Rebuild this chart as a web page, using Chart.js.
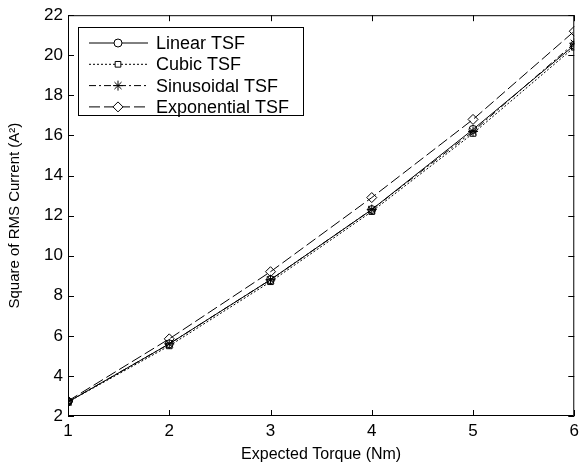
<!DOCTYPE html>
<html>
<head>
<meta charset="utf-8">
<script src="https://cdn.jsdelivr.net/npm/chart.js@4"></script>
<style>
  html, body { margin: 0; padding: 0; background: #fff; }
  #wrap { width: 584px; height: 470px; }
</style>
</head>
<body>
<div id="wrap"><canvas id="chart" width="584" height="470"></canvas></div>
<script>
// -----------------------------
// DATA
// -----------------------------
const torque = [1, 2, 3, 4, 5, 6];
const linearTSF = [2.7, 5.6, 8.8, 12.3, 16.3, 20.5];
const cubicTSF = [2.7, 5.5, 8.7, 12.2, 16.1, 20.4];
const sinusoidalTSF = [2.7, 5.6, 8.8, 12.3, 16.2, 20.6];
const exponentialTSF = [2.75, 5.85, 9.2, 12.9, 16.8, 21.2];
const yTicks = [2, 4, 6, 8, 10, 12, 14, 16, 18, 20, 22];

const FONT = "'Liberation Sans', Arial, sans-serif";

function pts(values) {
    return torque.map((t, i) => ({ x: t, y: values[i] }));
}

function series(label, values, dash, style, radius) {
    return {
        label,
        data: pts(values),
        borderColor: "#000",
        borderWidth: 1,
        borderDash: dash,
        pointStyle: style,
        pointRadius: radius,
        pointBorderColor: "#000",
        pointBackgroundColor: "rgba(0,0,0,0)",
        pointBorderWidth: 1,
        fill: false,
        tension: 0
    };
}

// -----------------------------
// INWARD TICKS + BOX + LEGEND
// -----------------------------
const matlabFrame = {
    id: "matlabFrame",
    afterDraw(chart) {
        const ctx = chart.ctx;
        const a = chart.chartArea;
        const xs = chart.scales.x;
        const ys = chart.scales.y;
        ctx.save();
        ctx.strokeStyle = "#000";
        ctx.lineWidth = 1;
        ctx.beginPath();
        ctx.rect(a.left + 0.5, a.top + 0.5, a.right - a.left - 1, a.bottom - a.top - 1);
        ctx.stroke();
        ctx.beginPath();
        torque.forEach(t => {
            const px = Math.round(xs.getPixelForValue(t)) + 0.5;
            ctx.moveTo(px, a.bottom); ctx.lineTo(px, a.bottom - 6);
            ctx.moveTo(px, a.top); ctx.lineTo(px, a.top + 6);
        });
        yTicks.forEach(v => {
            const py = Math.round(ys.getPixelForValue(v)) + 0.5;
            ctx.moveTo(a.left, py); ctx.lineTo(a.left + 6, py);
            ctx.moveTo(a.right, py); ctx.lineTo(a.right - 6, py);
        });
        ctx.stroke();

        // legend box
        const lx = 78, ly = 27, lw = 225, lh = 88;
        ctx.fillStyle = "#fff";
        ctx.fillRect(lx, ly, lw, lh);
        ctx.strokeRect(lx + 0.5, ly + 0.5, lw, lh);
        ctx.font = "18px " + FONT;
        ctx.textBaseline = "middle";
        chart.data.datasets.forEach((ds, i) => {
            const y = ly + 16 + i * 21.3;
            ctx.setLineDash(ds.borderDash);
            ctx.beginPath();
            ctx.moveTo(89, y); ctx.lineTo(148, y);
            ctx.stroke();
            ctx.setLineDash([]);
            ctx.fillStyle = "#fff";
            Chart.helpers.drawPoint(ctx, {
                pointStyle: ds.pointStyle,
                radius: ds.pointRadius,
                rotation: 0,
                borderWidth: 1
            }, 118, y);
            ctx.fillStyle = "#000";
            ctx.fillText(ds.label, 156, y + 1);
        });
        ctx.restore();
    }
};

// -----------------------------
// CHART
// -----------------------------
new Chart(document.getElementById("chart").getContext("2d"), {
    type: "line",
    data: {
        datasets: [
            series("Linear TSF", linearTSF, [], "circle", 4),
            series("Cubic TSF", cubicTSF, [2, 2], "rect", 4),
            series("Sinusoidal TSF", sinusoidalTSF, [7, 3, 2, 3], "star", 5),
            series("Exponential TSF", exponentialTSF, [11, 4], "rectRot", 5)
        ]
    },
    options: {
        responsive: false,
        animation: false,
        layout: { padding: { top: 15, right: 5, left: 0, bottom: 0 } },
        plugins: {
            legend: { display: false },
            tooltip: { enabled: false }
        },
        scales: {
            x: {
                type: "linear",
                min: 1,
                max: 6,
                border: { display: false },
                grid: { display: false, drawTicks: false },
                afterBuildTicks: s => { s.ticks = torque.map(v => ({ value: v })); },
                afterFit: s => { s.height = 54; },
                ticks: {
                    color: "#000",
                    padding: 5,
                    font: { family: FONT, size: 17 }
                },
                title: {
                    display: true,
                    text: "Expected Torque (Nm)",
                    color: "#000",
                    padding: { top: 0, bottom: 6 },
                    font: { family: FONT, size: 16 }
                }
            },
            y: {
                min: 2,
                max: 22,
                border: { display: false },
                grid: { display: false, drawTicks: false },
                afterBuildTicks: s => { s.ticks = yTicks.map(v => ({ value: v })); },
                afterFit: s => { s.width = 68; },
                ticks: {
                    color: "#000",
                    padding: 5,
                    font: { family: FONT, size: 17 }
                },
                title: {
                    display: true,
                    text: "Square of RMS Current (A²)",
                    color: "#000",
                    padding: { top: 6, bottom: 2 },
                    font: { family: FONT, size: 15 }
                }
            }
        }
    },
    plugins: [matlabFrame]
});
</script>
</body>
</html>
